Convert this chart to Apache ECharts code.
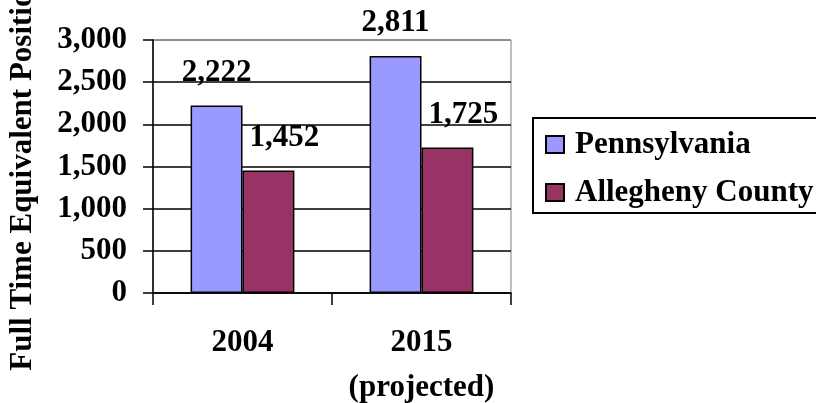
<!DOCTYPE html>
<html>
<head>
<meta charset="utf-8">
<script src="https://cdn.jsdelivr.net/npm/echarts@6/dist/echarts.min.js"></script>
<style>
  html, body { margin: 0; padding: 0; background: #fff; }
  #chart { width: 816px; height: 403px; }
</style>
</head>
<body>
<div id="chart"></div>
<script>
var years = ['2004', '2015\n(projected)'];
var pennsylvania = [2222, 2811];
var allegheny = [1452, 1725];
var yTicks = { min: 0, max: 3000, step: 500 };

var font = 'Liberation Serif, Times New Roman, serif';
var fs = 31;
var myChart = echarts.init(document.getElementById('chart'));

function labelStyle(dx) {
    return {
        show: true,
        position: 'top',
        distance: 17,
        offset: [dx, 0],
        color: '#000',
        fontFamily: font,
        fontWeight: 'bold',
        fontSize: fs,
        formatter: function (p) { return p.value.toLocaleString('en-US'); }
    };
}

var option = {
    backgroundColor: '#fff',
    animation: false,
    grid: {
        left: 153,
        right: 305,
        top: 40,
        bottom: 110,
        containLabel: false,
        outerBoundsMode: 'none',
        show: true,
        borderColor: '#808080',
        borderWidth: 1
    },
    legend: {
        orient: 'vertical',
        left: 533,
        top: 118,
        data: ['Pennsylvania', 'Allegheny County'],
        icon: 'rect',
        borderColor: '#000',
        borderWidth: 2,
        padding: [11, 16, 5, 12],
        itemWidth: 18,
        itemHeight: 17,
        itemGap: 17,
        textStyle: {
            color: '#000',
            fontFamily: font,
            fontWeight: 'bold',
            fontSize: fs,
            padding: [0, 0, 0, 6]
        }
    },
    xAxis: {
        type: 'category',
        data: years,
        axisLine: { lineStyle: { color: '#000', width: 1.5 } },
        axisTick: { show: true, interval: 0, length: 12, lineStyle: { color: '#000', width: 1.5 } },
        axisLabel: {
            interval: 0,
            margin: 27,
            color: '#000',
            fontFamily: font,
            fontWeight: 'bold',
            fontSize: fs,
            lineHeight: 45
        }
    },
    yAxis: {
        type: 'value',
        min: yTicks.min,
        max: yTicks.max,
        interval: yTicks.step,
        name: 'Full Time Equivalent Positions',
        nameLocation: 'middle',
        nameGap: 115,
        nameTextStyle: {
            color: '#000',
            fontFamily: font,
            fontWeight: 'bold',
            fontSize: fs
        },
        axisLine: { show: true, lineStyle: { color: '#000', width: 1.5 } },
        axisTick: { show: true, length: 10, lineStyle: { color: '#000', width: 1.5 } },
        axisLabel: {
            margin: 26,
            color: '#000',
            fontFamily: font,
            fontWeight: 'bold',
            fontSize: fs,
            formatter: function (v) { return v.toLocaleString('en-US'); }
        },
        splitLine: {
            lineStyle: {
                color: ['#000', '#000', '#000', '#000', '#000', '#000', '#808080'],
                width: 1.5
            }
        }
    },
    series: [
        {
            name: 'Pennsylvania',
            type: 'bar',
            data: pennsylvania,
            barGap: 0,
            barCategoryGap: '42%',
            itemStyle: { color: '#9999FF', borderColor: '#000', borderWidth: 1.5 },
            label: labelStyle(0)
        },
        {
            name: 'Allegheny County',
            type: 'bar',
            data: allegheny,
            barGap: 0,
            barCategoryGap: '42%',
            itemStyle: { color: '#993366', borderColor: '#000', borderWidth: 1.5 },
            label: labelStyle(16)
        }
    ]
};

myChart.setOption(option);
</script>
</body>
</html>
